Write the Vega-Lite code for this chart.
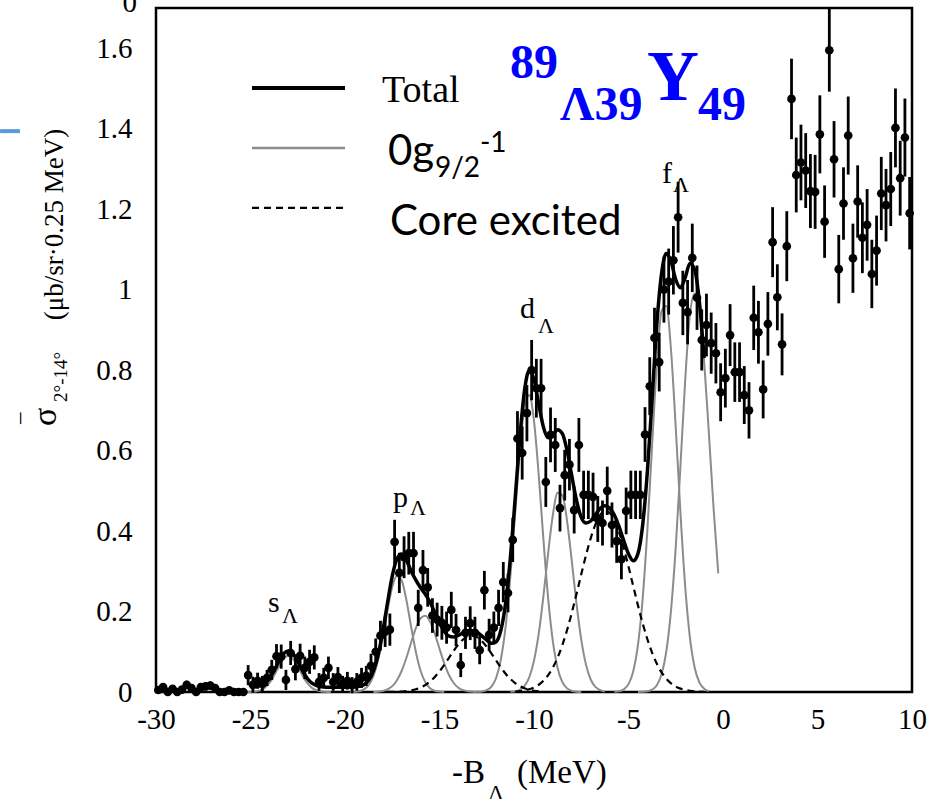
{
"$schema": "https://vega.github.io/schema/vega-lite/v6.json",
"width": 756,
"height": 684,
"autosize": {"type": "none"},
"padding": {"left": 156, "top": 8, "right": 23, "bottom": 107},
"background": "white",
"config": {
  "view": {"stroke": "black", "strokeWidth": 2.5},
  "axis": {"grid": false, "domain": false, "ticks": false, "labelFont": "Liberation Serif", "labelFontSize": 29, "labelColor": "black", "labelFlush": false, "labelOverlap": false, "labelBound": false}
},
"datasets": {
  "pts": [
    {"x":-29.875,"y":0.005,"err":0.008},{"x":-29.625,"y":0.012,"err":0.01},{"x":-29.375,"y":0,"err":0.006},{"x":-29.125,"y":0.008,"err":0.008},
    {"x":-28.875,"y":0,"err":0.006},{"x":-28.625,"y":0.006,"err":0.008},{"x":-28.375,"y":0.018,"err":0.01},{"x":-28.125,"y":0.01,"err":0.01},
    {"x":-27.875,"y":0,"err":0.006},{"x":-27.625,"y":0.012,"err":0.01},{"x":-27.375,"y":0.014,"err":0.01},{"x":-27.125,"y":0.016,"err":0.01},
    {"x":-26.875,"y":0.01,"err":0.01},{"x":-26.625,"y":0,"err":0.006},{"x":-26.375,"y":0,"err":0.006},{"x":-26.125,"y":0.004,"err":0.008},
    {"x":-25.875,"y":0,"err":0.006},{"x":-25.625,"y":0,"err":0.006},{"x":-25.375,"y":0,"err":0.006},{"x":-25.125,"y":0.042,"err":0.025},
    {"x":-24.875,"y":0.018,"err":0.02},{"x":-24.625,"y":0.028,"err":0.02},{"x":-24.375,"y":0.02,"err":0.02},{"x":-24.125,"y":0.035,"err":0.02},
    {"x":-23.875,"y":0.055,"err":0.025},{"x":-23.625,"y":0.089,"err":0.03},{"x":-23.375,"y":0.088,"err":0.03},{"x":-23.125,"y":0.03,"err":0.025},
    {"x":-22.875,"y":0.097,"err":0.03},{"x":-22.625,"y":0.057,"err":0.028},{"x":-22.375,"y":0.09,"err":0.03},{"x":-22.125,"y":0.06,"err":0.028},
    {"x":-21.875,"y":0.075,"err":0.03},{"x":-21.625,"y":0.086,"err":0.03},{"x":-21.375,"y":0.025,"err":0.022},{"x":-21.125,"y":0.035,"err":0.025},
    {"x":-20.875,"y":0.06,"err":0.028},{"x":-20.625,"y":0.025,"err":0.022},{"x":-20.375,"y":0.037,"err":0.025},{"x":-20.125,"y":0.02,"err":0.02},
    {"x":-19.875,"y":0.028,"err":0.022},{"x":-19.625,"y":0.017,"err":0.02},{"x":-19.375,"y":0.025,"err":0.022},{"x":-19.125,"y":0.035,"err":0.025},
    {"x":-18.875,"y":0.04,"err":0.025},{"x":-18.625,"y":0.065,"err":0.03},{"x":-18.375,"y":0.1,"err":0.033},{"x":-18.125,"y":0.14,"err":0.037},
    {"x":-17.875,"y":0.15,"err":0.038},{"x":-17.625,"y":0.155,"err":0.04},{"x":-17.375,"y":0.373,"err":0.055},{"x":-17.125,"y":0.296,"err":0.05},
    {"x":-16.875,"y":0.335,"err":0.052},{"x":-16.625,"y":0.345,"err":0.053},{"x":-16.375,"y":0.345,"err":0.053},{"x":-16.125,"y":0.209,"err":0.045},
    {"x":-15.875,"y":0.303,"err":0.05},{"x":-15.625,"y":0.26,"err":0.048},{"x":-15.375,"y":0.19,"err":0.043},{"x":-15.125,"y":0.18,"err":0.042},
    {"x":-14.875,"y":0.172,"err":0.042},{"x":-14.625,"y":0.16,"err":0.04},{"x":-14.375,"y":0.204,"err":0.045},{"x":-14.125,"y":0.154,"err":0.04},
    {"x":-13.875,"y":0.067,"err":0.03},{"x":-13.625,"y":0.147,"err":0.04},{"x":-13.375,"y":0.171,"err":0.042},{"x":-13.125,"y":0.147,"err":0.04},
    {"x":-12.875,"y":0.104,"err":0.035},{"x":-12.625,"y":0.253,"err":0.048},{"x":-12.375,"y":0.142,"err":0.04},{"x":-12.125,"y":0.16,"err":0.04},
    {"x":-11.875,"y":0.209,"err":0.045},{"x":-11.625,"y":0.273,"err":0.05},{"x":-11.375,"y":0.246,"err":0.048},{"x":-11.125,"y":0.378,"err":0.055},
    {"x":-10.875,"y":0.63,"err":0.068},{"x":-10.625,"y":0.594,"err":0.066},{"x":-10.375,"y":0.693,"err":0.07},{"x":-10.125,"y":0.8,"err":0.075},
    {"x":-9.875,"y":0.755,"err":0.073},{"x":-9.625,"y":0.755,"err":0.073},{"x":-9.375,"y":0.522,"err":0.062},{"x":-9.125,"y":0.639,"err":0.068},
    {"x":-8.875,"y":0.614,"err":0.067},{"x":-8.625,"y":0.457,"err":0.058},{"x":-8.375,"y":0.539,"err":0.063},{"x":-8.125,"y":0.565,"err":0.064},
    {"x":-7.875,"y":0.452,"err":0.058},{"x":-7.625,"y":0.614,"err":0.067},{"x":-7.375,"y":0.49,"err":0.06},{"x":-7.125,"y":0.49,"err":0.06},
    {"x":-6.875,"y":0.485,"err":0.06},{"x":-6.625,"y":0.43,"err":0.057},{"x":-6.375,"y":0.42,"err":0.056},{"x":-6.125,"y":0.5,"err":0.06},
    {"x":-5.875,"y":0.415,"err":0.056},{"x":-5.625,"y":0.375,"err":0.054},{"x":-5.375,"y":0.33,"err":0.05},{"x":-5.125,"y":0.45,"err":0.058},
    {"x":-4.875,"y":0.49,"err":0.06},{"x":-4.625,"y":0.49,"err":0.06},{"x":-4.375,"y":0.49,"err":0.06},{"x":-4.125,"y":0.64,"err":0.068},
    {"x":-3.875,"y":0.76,"err":0.072},{"x":-3.625,"y":0.88,"err":0.075},{"x":-3.375,"y":0.82,"err":0.073},{"x":-3.125,"y":1.0,"err":0.082},
    {"x":-2.875,"y":1.02,"err":0.082},{"x":-2.625,"y":1.073,"err":0.085},{"x":-2.375,"y":1.18,"err":0.088},{"x":-2.125,"y":0.967,"err":0.08},
    {"x":-1.875,"y":0.944,"err":0.08},{"x":-1.625,"y":1.079,"err":0.085},{"x":-1.375,"y":0.98,"err":0.08},{"x":-1.125,"y":0.875,"err":0.076},
    {"x":-0.875,"y":0.912,"err":0.078},{"x":-0.625,"y":0.867,"err":0.076},{"x":-0.375,"y":0.842,"err":0.075},{"x":-0.125,"y":0.745,"err":0.072},
    {"x":0.125,"y":0.78,"err":0.073},{"x":0.375,"y":0.887,"err":0.077},{"x":0.625,"y":0.795,"err":0.074},{"x":0.875,"y":0.795,"err":0.074},
    {"x":1.125,"y":0.738,"err":0.072},{"x":1.375,"y":0.7,"err":0.07},{"x":1.625,"y":0.93,"err":0.08},{"x":1.875,"y":0.894,"err":0.078},
    {"x":2.125,"y":0.752,"err":0.072},{"x":2.375,"y":0.915,"err":0.079},{"x":2.625,"y":1.118,"err":0.087},{"x":2.875,"y":0.981,"err":0.082},
    {"x":3.125,"y":0.864,"err":0.077},{"x":3.375,"y":1.108,"err":0.087},{"x":3.625,"y":1.474,"err":0.1},{"x":3.875,"y":1.285,"err":0.093},
    {"x":4.125,"y":1.316,"err":0.094},{"x":4.375,"y":1.296,"err":0.093},{"x":4.625,"y":1.245,"err":0.092},{"x":4.875,"y":1.243,"err":0.092},
    {"x":5.125,"y":1.386,"err":0.097},{"x":5.375,"y":1.169,"err":0.09},{"x":5.625,"y":1.595,"err":0.103},{"x":5.875,"y":1.324,"err":0.095},
    {"x":6.125,"y":1.051,"err":0.085},{"x":6.375,"y":1.214,"err":0.09},{"x":6.625,"y":1.383,"err":0.097},{"x":6.875,"y":1.078,"err":0.086},
    {"x":7.125,"y":1.219,"err":0.09},{"x":7.375,"y":1.129,"err":0.088},{"x":7.625,"y":1.161,"err":0.089},{"x":7.875,"y":1.039,"err":0.085},
    {"x":8.125,"y":1.097,"err":0.087},{"x":8.375,"y":1.239,"err":0.091},{"x":8.625,"y":1.21,"err":0.09},{"x":8.875,"y":1.25,"err":0.092},
    {"x":9.125,"y":1.402,"err":0.098},{"x":9.375,"y":1.277,"err":0.093},{"x":9.625,"y":1.378,"err":0.097},{"x":9.875,"y":1.19,"err":0.09}
  ],
  "gray": [
    {"comp":"s","x":-25.25,"y":0},{"comp":"s","x":-25.0,"y":0.0003},{"comp":"s","x":-24.75,"y":0.0013},{"comp":"s","x":-24.5,"y":0.004},{"comp":"s","x":-24.25,"y":0.0103},{"comp":"s","x":-24.0,"y":0.0224},{"comp":"s","x":-23.75,"y":0.0412},{"comp":"s","x":-23.5,"y":0.0636},{"comp":"s","x":-23.25,"y":0.0825},{"comp":"s","x":-23.0,"y":0.09},{"comp":"s","x":-22.75,"y":0.0825},{"comp":"s","x":-22.5,"y":0.0636},{"comp":"s","x":-22.25,"y":0.0412},{"comp":"s","x":-22.0,"y":0.0224},{"comp":"s","x":-21.75,"y":0.0103},{"comp":"s","x":-21.5,"y":0.004},{"comp":"s","x":-21.25,"y":0.0013},{"comp":"s","x":-21.0,"y":0.0003},{"comp":"s","x":-20.75,"y":0},
    {"comp":"p1","x":-19.75,"y":0},{"comp":"p1","x":-19.5,"y":0.0006},{"comp":"p1","x":-19.25,"y":0.002},{"comp":"p1","x":-19.0,"y":0.0063},{"comp":"p1","x":-18.75,"y":0.0169},{"comp":"p1","x":-18.5,"y":0.0392},{"comp":"p1","x":-18.25,"y":0.0787},{"comp":"p1","x":-18.0,"y":0.136},{"comp":"p1","x":-17.75,"y":0.203},{"comp":"p1","x":-17.5,"y":0.261},{"comp":"p1","x":-17.25,"y":0.289},{"comp":"p1","x":-17.0,"y":0.277},{"comp":"p1","x":-16.75,"y":0.228},{"comp":"p1","x":-16.5,"y":0.162},{"comp":"p1","x":-16.25,"y":0.0996},{"comp":"p1","x":-16.0,"y":0.0527},{"comp":"p1","x":-15.75,"y":0.0241},{"comp":"p1","x":-15.5,"y":0.0095},{"comp":"p1","x":-15.25,"y":0.0032},{"comp":"p1","x":-15.0,"y":0.001},{"comp":"p1","x":-14.75,"y":0.0003},
    {"comp":"p2","x":-18.5,"y":0.0003},{"comp":"p2","x":-18.25,"y":0.0009},{"comp":"p2","x":-18.0,"y":0.0026},{"comp":"p2","x":-17.75,"y":0.0065},{"comp":"p2","x":-17.5,"y":0.0146},{"comp":"p2","x":-17.25,"y":0.0293},{"comp":"p2","x":-17.0,"y":0.0528},{"comp":"p2","x":-16.75,"y":0.0852},{"comp":"p2","x":-16.5,"y":0.1229},{"comp":"p2","x":-16.25,"y":0.1587},{"comp":"p2","x":-16.0,"y":0.1833},{"comp":"p2","x":-15.75,"y":0.1896},{"comp":"p2","x":-15.5,"y":0.1754},{"comp":"p2","x":-15.25,"y":0.1452},{"comp":"p2","x":-15.0,"y":0.1076},{"comp":"p2","x":-14.75,"y":0.0713},{"comp":"p2","x":-14.5,"y":0.0423},{"comp":"p2","x":-14.25,"y":0.0224},{"comp":"p2","x":-14.0,"y":0.0107},{"comp":"p2","x":-13.75,"y":0.0045},{"comp":"p2","x":-13.5,"y":0.0017},{"comp":"p2","x":-13.25,"y":0.0006},{"comp":"p2","x":-13.0,"y":0.0003},
    {"comp":"d1","x":-13.0,"y":0.0003},{"comp":"d1","x":-12.75,"y":0.0014},{"comp":"d1","x":-12.5,"y":0.0046},{"comp":"d1","x":-12.25,"y":0.0136},{"comp":"d1","x":-12.0,"y":0.0355},{"comp":"d1","x":-11.75,"y":0.0814},{"comp":"d1","x":-11.5,"y":0.163},{"comp":"d1","x":-11.25,"y":0.287},{"comp":"d1","x":-11.0,"y":0.442},{"comp":"d1","x":-10.75,"y":0.598},{"comp":"d1","x":-10.5,"y":0.71},{"comp":"d1","x":-10.25,"y":0.738},{"comp":"d1","x":-10.0,"y":0.673},{"comp":"d1","x":-9.75,"y":0.539},{"comp":"d1","x":-9.5,"y":0.378},{"comp":"d1","x":-9.25,"y":0.232},{"comp":"d1","x":-9.0,"y":0.125},{"comp":"d1","x":-8.75,"y":0.0592},{"comp":"d1","x":-8.5,"y":0.0246},{"comp":"d1","x":-8.25,"y":0.009},{"comp":"d1","x":-8.0,"y":0.0029},{"comp":"d1","x":-7.75,"y":0.0008},{"comp":"d1","x":-7.5,"y":0.0002},
    {"comp":"d2","x":-11.25,"y":0.0006},{"comp":"d2","x":-11.0,"y":0.0018},{"comp":"d2","x":-10.75,"y":0.0056},{"comp":"d2","x":-10.5,"y":0.0152},{"comp":"d2","x":-10.25,"y":0.0367},{"comp":"d2","x":-10.0,"y":0.078},{"comp":"d2","x":-9.75,"y":0.145},{"comp":"d2","x":-9.5,"y":0.239},{"comp":"d2","x":-9.25,"y":0.346},{"comp":"d2","x":-9.0,"y":0.441},{"comp":"d2","x":-8.75,"y":0.495},{"comp":"d2","x":-8.5,"y":0.489},{"comp":"d2","x":-8.25,"y":0.425},{"comp":"d2","x":-8.0,"y":0.325},{"comp":"d2","x":-7.75,"y":0.219},{"comp":"d2","x":-7.5,"y":0.13},{"comp":"d2","x":-7.25,"y":0.068},{"comp":"d2","x":-7.0,"y":0.0311},{"comp":"d2","x":-6.75,"y":0.0126},{"comp":"d2","x":-6.5,"y":0.0045},{"comp":"d2","x":-6.25,"y":0.0014},
    {"comp":"f1","x":-5.75,"y":0.0005},{"comp":"f1","x":-5.5,"y":0.0019},{"comp":"f1","x":-5.25,"y":0.0066},{"comp":"f1","x":-5.0,"y":0.0196},{"comp":"f1","x":-4.75,"y":0.0511},{"comp":"f1","x":-4.5,"y":0.1166},{"comp":"f1","x":-4.25,"y":0.2321},{"comp":"f1","x":-4.0,"y":0.4041},{"comp":"f1","x":-3.75,"y":0.6143},{"comp":"f1","x":-3.5,"y":0.8159},{"comp":"f1","x":-3.25,"y":0.9467},{"comp":"f1","x":-3.0,"y":0.9596},{"comp":"f1","x":-2.75,"y":0.8497},{"comp":"f1","x":-2.5,"y":0.6573},{"comp":"f1","x":-2.25,"y":0.4441},{"comp":"f1","x":-2.0,"y":0.2622},{"comp":"f1","x":-1.75,"y":0.1352},{"comp":"f1","x":-1.5,"y":0.0609},{"comp":"f1","x":-1.25,"y":0.024},{"comp":"f1","x":-1.0,"y":0.0082},{"comp":"f1","x":-0.75,"y":0.0025},
    {"comp":"f2","x":-4.5,"y":0.0001},{"comp":"f2","x":-4.25,"y":0.0005},{"comp":"f2","x":-4.0,"y":0.0017},{"comp":"f2","x":-3.75,"y":0.0057},{"comp":"f2","x":-3.5,"y":0.0169},{"comp":"f2","x":-3.25,"y":0.044},{"comp":"f2","x":-3.0,"y":0.1007},{"comp":"f2","x":-2.75,"y":0.203},{"comp":"f2","x":-2.5,"y":0.36},{"comp":"f2","x":-2.25,"y":0.563},{"comp":"f2","x":-2.0,"y":0.775},{"comp":"f2","x":-1.75,"y":0.938},{"comp":"f2","x":-1.5,"y":0.99},{"comp":"f2","x":-1.25,"y":0.952},{"comp":"f2","x":-1.0,"y":0.823},{"comp":"f2","x":-0.75,"y":0.645},{"comp":"f2","x":-0.5,"y":0.458},{"comp":"f2","x":-0.25,"y":0.295}
  ],
  "core": [
    {"comp":"A","x":-17.75,"y":0.0001},{"comp":"A","x":-17.5,"y":0.0003},{"comp":"A","x":-17.25,"y":0.0006},{"comp":"A","x":-17.0,"y":0.0012},{"comp":"A","x":-16.75,"y":0.0022},{"comp":"A","x":-16.5,"y":0.004},{"comp":"A","x":-16.25,"y":0.0068},{"comp":"A","x":-16.0,"y":0.0111},{"comp":"A","x":-15.75,"y":0.0174},{"comp":"A","x":-15.5,"y":0.0261},{"comp":"A","x":-15.25,"y":0.0374},{"comp":"A","x":-15.0,"y":0.0513},{"comp":"A","x":-14.75,"y":0.0675},{"comp":"A","x":-14.5,"y":0.0849},{"comp":"A","x":-14.25,"y":0.1023},{"comp":"A","x":-14.0,"y":0.1181},{"comp":"A","x":-13.75,"y":0.1305},{"comp":"A","x":-13.5,"y":0.138},{"comp":"A","x":-13.25,"y":0.1399},{"comp":"A","x":-13.0,"y":0.1357},{"comp":"A","x":-12.75,"y":0.126},{"comp":"A","x":-12.5,"y":0.1121},{"comp":"A","x":-12.25,"y":0.0955},{"comp":"A","x":-12.0,"y":0.0778},{"comp":"A","x":-11.75,"y":0.0608},{"comp":"A","x":-11.5,"y":0.0455},{"comp":"A","x":-11.25,"y":0.0325},{"comp":"A","x":-11.0,"y":0.0223},{"comp":"A","x":-10.75,"y":0.0146},{"comp":"A","x":-10.5,"y":0.0092},{"comp":"A","x":-10.25,"y":0.0055},{"comp":"A","x":-10.0,"y":0.0032},{"comp":"A","x":-9.75,"y":0.0018},{"comp":"A","x":-9.5,"y":0.0009},
    {"comp":"B","x":-11.0,"y":0.0013},{"comp":"B","x":-10.75,"y":0.0023},{"comp":"B","x":-10.5,"y":0.004},{"comp":"B","x":-10.25,"y":0.0069},{"comp":"B","x":-10.0,"y":0.0113},{"comp":"B","x":-9.75,"y":0.018},{"comp":"B","x":-9.5,"y":0.028},{"comp":"B","x":-9.25,"y":0.0419},{"comp":"B","x":-9.0,"y":0.0609},{"comp":"B","x":-8.75,"y":0.0857},{"comp":"B","x":-8.5,"y":0.1167},{"comp":"B","x":-8.25,"y":0.154},{"comp":"B","x":-8.0,"y":0.1969},{"comp":"B","x":-7.75,"y":0.2438},{"comp":"B","x":-7.5,"y":0.2924},{"comp":"B","x":-7.25,"y":0.3397},{"comp":"B","x":-7.0,"y":0.3822},{"comp":"B","x":-6.75,"y":0.4166},{"comp":"B","x":-6.5,"y":0.4398},{"comp":"B","x":-6.25,"y":0.4497},{"comp":"B","x":-6.0,"y":0.4454},{"comp":"B","x":-5.75,"y":0.4273},{"comp":"B","x":-5.5,"y":0.3971},{"comp":"B","x":-5.25,"y":0.3574},{"comp":"B","x":-5.0,"y":0.3117},{"comp":"B","x":-4.75,"y":0.2632},{"comp":"B","x":-4.5,"y":0.2153},{"comp":"B","x":-4.25,"y":0.1706},{"comp":"B","x":-4.0,"y":0.131},{"comp":"B","x":-3.75,"y":0.0973},{"comp":"B","x":-3.5,"y":0.0701},{"comp":"B","x":-3.25,"y":0.0489},{"comp":"B","x":-3.0,"y":0.033},{"comp":"B","x":-2.75,"y":0.0216},{"comp":"B","x":-2.5,"y":0.0137},{"comp":"B","x":-2.25,"y":0.0084},{"comp":"B","x":-2.0,"y":0.005},{"comp":"B","x":-1.75,"y":0.0029},{"comp":"B","x":-1.5,"y":0.0016},{"comp":"B","x":-1.25,"y":0.0009},{"comp":"B","x":-1.0,"y":0.0005}
  ],
  "total": [
    {"x":-25.0,"y":0.012},{"x":-24.75,"y":0.013},{"x":-24.5,"y":0.016},{"x":-24.25,"y":0.022},{"x":-24.0,"y":0.034},{"x":-23.75,"y":0.053},{"x":-23.5,"y":0.076},{"x":-23.25,"y":0.095},{"x":-23.0,"y":0.102},{"x":-22.75,"y":0.095},{"x":-22.5,"y":0.076},{"x":-22.25,"y":0.053},{"x":-22.0,"y":0.034},{"x":-21.75,"y":0.022},{"x":-21.5,"y":0.016},{"x":-21.25,"y":0.013},{"x":-21.0,"y":0.012},{"x":-20.5,"y":0.012},{"x":-20.0,"y":0.012},{"x":-19.5,"y":0.013},{"x":-19.25,"y":0.014},{"x":-19.0,"y":0.018},{"x":-18.75,"y":0.029},{"x":-18.5,"y":0.052},{"x":-18.25,"y":0.092},{"x":-18.0,"y":0.151},{"x":-17.75,"y":0.222},{"x":-17.5,"y":0.288},{"x":-17.25,"y":0.331},{"x":-17.0,"y":0.343},{"x":-16.75,"y":0.327},{"x":-16.5,"y":0.301},{"x":-16.25,"y":0.278},{"x":-16.0,"y":0.259},{"x":-15.75,"y":0.243},{"x":-15.5,"y":0.223},{"x":-15.25,"y":0.198},{"x":-15.0,"y":0.172},{"x":-14.75,"y":0.151},{"x":-14.5,"y":0.139},{"x":-14.25,"y":0.137},{"x":-14.0,"y":0.141},{"x":-13.75,"y":0.147},{"x":-13.5,"y":0.152},{"x":-13.25,"y":0.152},{"x":-13.0,"y":0.148},{"x":-12.75,"y":0.139},{"x":-12.5,"y":0.129},{"x":-12.25,"y":0.121},{"x":-12.0,"y":0.125},{"x":-11.75,"y":0.154},{"x":-11.5,"y":0.221},{"x":-11.25,"y":0.333},{"x":-11.0,"y":0.479},{"x":-10.75,"y":0.632},{"x":-10.5,"y":0.75},{"x":-10.25,"y":0.799},{"x":-10.0,"y":0.777},{"x":-9.75,"y":0.716},{"x":-9.5,"y":0.658},{"x":-9.25,"y":0.632},{"x":-9.0,"y":0.639},{"x":-8.75,"y":0.652},{"x":-8.5,"y":0.642},{"x":-8.25,"y":0.6},{"x":-8.0,"y":0.537},{"x":-7.75,"y":0.476},{"x":-7.5,"y":0.434},{"x":-7.25,"y":0.42},{"x":-7.0,"y":0.425},{"x":-6.75,"y":0.441},{"x":-6.5,"y":0.456},{"x":-6.25,"y":0.463},{"x":-6.0,"y":0.457},{"x":-5.75,"y":0.44},{"x":-5.5,"y":0.411},{"x":-5.25,"y":0.376},{"x":-5.0,"y":0.343},{"x":-4.75,"y":0.326},{"x":-4.5,"y":0.344},{"x":-4.25,"y":0.415},{"x":-4.0,"y":0.549},{"x":-3.75,"y":0.729},{"x":-3.5,"y":0.915},{"x":-3.25,"y":1.04},{"x":-3.0,"y":1.09},{"x":-2.75,"y":1.07},{"x":-2.5,"y":1.025},{"x":-2.25,"y":1.005},{"x":-2.0,"y":1.03},{"x":-1.75,"y":1.065},{"x":-1.5,"y":1.05},{"x":-1.25,"y":0.97},{"x":-1.0,"y":0.83}
  ],
  "xticks": [
    {"x":-29,"major":false},{"x":-28,"major":false},{"x":-27,"major":false},{"x":-26,"major":false},{"x":-25,"major":true},
    {"x":-24,"major":false},{"x":-23,"major":false},{"x":-22,"major":false},{"x":-21,"major":false},{"x":-20,"major":true},
    {"x":-19,"major":false},{"x":-18,"major":false},{"x":-17,"major":false},{"x":-16,"major":false},{"x":-15,"major":true},
    {"x":-14,"major":false},{"x":-13,"major":false},{"x":-12,"major":false},{"x":-11,"major":false},{"x":-10,"major":true},
    {"x":-9,"major":false},{"x":-8,"major":false},{"x":-7,"major":false},{"x":-6,"major":false},{"x":-5,"major":true},
    {"x":-4,"major":false},{"x":-3,"major":false},{"x":-2,"major":false},{"x":-1,"major":false},{"x":0,"major":true},
    {"x":1,"major":false},{"x":2,"major":false},{"x":3,"major":false},{"x":4,"major":false},{"x":5,"major":true},
    {"x":6,"major":false},{"x":7,"major":false},{"x":8,"major":false},{"x":9,"major":false}
  ],
  "yticks": [
    {"y":0.05,"major":false},{"y":0.1,"major":false},{"y":0.15,"major":false},{"y":0.2,"major":true},
    {"y":0.25,"major":false},{"y":0.3,"major":false},{"y":0.35,"major":false},{"y":0.4,"major":true},
    {"y":0.45,"major":false},{"y":0.5,"major":false},{"y":0.55,"major":false},{"y":0.6,"major":true},
    {"y":0.65,"major":false},{"y":0.7,"major":false},{"y":0.75,"major":false},{"y":0.8,"major":true},
    {"y":0.85,"major":false},{"y":0.9,"major":false},{"y":0.95,"major":false},{"y":1,"major":true},
    {"y":1.05,"major":false},{"y":1.1,"major":false},{"y":1.15,"major":false},{"y":1.2,"major":true},
    {"y":1.25,"major":false},{"y":1.3,"major":false},{"y":1.35,"major":false},{"y":1.4,"major":true},
    {"y":1.45,"major":false},{"y":1.5,"major":false},{"y":1.55,"major":false},{"y":1.6,"major":true},
    {"y":1.65,"major":false}
  ],
  "leg": [
    {"kind":"total","x":-24.92,"x2":-20.0,"y":1.501},
    {"kind":"comp","x":-24.92,"x2":-20.0,"y":1.352},
    {"kind":"core","x":-24.92,"x2":-20.0,"y":1.203},
    {"kind":"deco","x":-38.25,"x2":-37.2,"y":1.394}
  ],
  "lab": [
    {"grp":"peak","x":-24.07,"y":0.199,"text":"s"},
    {"grp":"peak","x":-17.46,"y":0.46,"text":"p"},
    {"grp":"peak","x":-10.74,"y":0.929,"text":"d"},
    {"grp":"peak","x":-3.23,"y":1.265,"text":"f"},
    {"grp":"sub","x":-23.33,"y":0.171,"text":"Λ"},
    {"grp":"sub","x":-16.56,"y":0.44,"text":"Λ"},
    {"grp":"sub","x":-9.79,"y":0.892,"text":"Λ"},
    {"grp":"sub","x":-2.65,"y":1.242,"text":"Λ"},
    {"grp":"sub","x":-12.43,"y":-0.268,"text":"Λ"},
    {"grp":"xt","x":-14.34,"y":-0.226,"text":"-B"},
    {"grp":"xt","x":-10.9,"y":-0.226,"text":"(MeV)"},
    {"grp":"total","x":-18.04,"y":1.466,"text":"Total"},
    {"grp":"sans","x":-17.73,"y":1.31,"text":"0g"},
    {"grp":"sans","x":-17.62,"y":1.136,"text":"Core excited"},
    {"grp":"sanssm","x":-15.24,"y":1.28,"text":"9/2"},
    {"grp":"sanssm","x":-12.86,"y":1.342,"text":"-1"},
    {"grp":"blue","x":-11.27,"y":1.526,"text":"89"},
    {"grp":"blue","x":-8.62,"y":1.421,"text":"Λ39"},
    {"grp":"blue","x":-1.32,"y":1.421,"text":"49"},
    {"grp":"blueY","x":-4.02,"y":1.471,"text":"Y"},
    {"grp":"yt1","x":-35.3,"y":0.661,"text":"σ"},
    {"grp":"ybar","x":-35.91,"y":0.668,"text":"‾"},
    {"grp":"yt2","x":-34.72,"y":0.721,"text":"2°-14°"},
    {"grp":"yt3","x":-34.92,"y":0.924,"text":"(μb/sr·0.25 MeV)"},
    {"grp":"tick0","x":-31.0,"y":1.69,"text":"0"}
  ]
},
"encoding": {
  "x": {"field": "x", "type": "quantitative",
        "scale": {"domain": [-30, 10], "nice": false, "zero": false},
        "axis": {"title": null,
                 "values": [-30,-25,-20,-15,-10,-5,0,5,10],
                 "labelExpr": "toString(datum.value)",
                 "labelPadding": 13, "labelBaseline": "top"}},
  "y": {"field": "y", "type": "quantitative",
        "scale": {"domain": [0, 1.7], "nice": false, "zero": false},
        "axis": {"title": null,
                 "values": [0,0.2,0.4,0.6,0.8,1,1.2,1.4,1.6],
                 "labelExpr": "toString(datum.value)",
                 "labelPadding": 24, "labelBaseline": "middle"}}
},
"layer": [
  {"data": {"name": "gray"}, "mark": {"type": "line", "color": "#8c8c8c", "strokeWidth": 2, "interpolate": "monotone"}, "encoding": {"detail": {"field": "comp"}}},
  {"data": {"name": "core"}, "mark": {"type": "line", "color": "black", "strokeWidth": 2.2, "strokeDash": [7, 5], "interpolate": "monotone"}, "encoding": {"detail": {"field": "comp"}}},
  {"data": {"name": "total"}, "mark": {"type": "line", "color": "black", "strokeWidth": 3.5, "interpolate": "monotone"}, "encoding": {}},
  {"data": {"name": "pts"}, "mark": {"type": "errorbar", "color": "black", "thickness": 2.8, "ticks": false}, "encoding": {"yError": {"field": "err"}}},
  {"data": {"name": "pts"}, "mark": {"type": "circle", "color": "black", "size": 75, "opacity": 1}, "encoding": {}},
  {"data": {"name": "xticks"}, "transform": [{"filter": "datum.major"}], "mark": {"type": "rule", "color": "black", "strokeWidth": 2}, "encoding": {"y": {"datum": 0}, "y2": {"datum": 0.045}}},
  {"data": {"name": "xticks"}, "transform": [{"filter": "!datum.major"}], "mark": {"type": "rule", "color": "black", "strokeWidth": 2}, "encoding": {"y": {"datum": 0}, "y2": {"datum": 0.025}}},
  {"data": {"name": "yticks"}, "transform": [{"filter": "datum.major"}], "mark": {"type": "rule", "color": "black", "strokeWidth": 2}, "encoding": {"x": {"datum": -30}, "x2": {"datum": -28.89}}},
  {"data": {"name": "yticks"}, "transform": [{"filter": "!datum.major"}], "mark": {"type": "rule", "color": "black", "strokeWidth": 2}, "encoding": {"x": {"datum": -30}, "x2": {"datum": -29.365}}},
  {"data": {"name": "leg"}, "transform": [{"filter": "datum.kind === 'total'"}], "mark": {"type": "rule", "color": "black", "strokeWidth": 4}, "encoding": {"x2": {"field": "x2"}}},
  {"data": {"name": "leg"}, "transform": [{"filter": "datum.kind === 'comp'"}], "mark": {"type": "rule", "color": "#8c8c8c", "strokeWidth": 2.5}, "encoding": {"x2": {"field": "x2"}}},
  {"data": {"name": "leg"}, "transform": [{"filter": "datum.kind === 'core'"}], "mark": {"type": "rule", "color": "black", "strokeWidth": 2.2, "strokeDash": [7, 5]}, "encoding": {"x2": {"field": "x2"}}},
  {"data": {"name": "leg"}, "transform": [{"filter": "datum.kind === 'deco'"}], "mark": {"type": "rule", "color": "#5b9bd5", "strokeWidth": 4}, "encoding": {"x2": {"field": "x2"}}},
  {"data": {"name": "lab"}, "transform": [{"filter": "datum.grp === 'peak'"}], "mark": {"type": "text", "font": "Liberation Serif", "fontSize": 30, "align": "left", "baseline": "alphabetic", "color": "black"}, "encoding": {"text": {"field": "text"}}},
  {"data": {"name": "lab"}, "transform": [{"filter": "datum.grp === 'sub'"}], "mark": {"type": "text", "font": "Liberation Serif", "fontSize": 22, "align": "left", "baseline": "alphabetic", "color": "black"}, "encoding": {"text": {"field": "text"}}},
  {"data": {"name": "lab"}, "transform": [{"filter": "datum.grp === 'xt'"}], "mark": {"type": "text", "font": "Liberation Serif", "fontSize": 33, "align": "left", "baseline": "alphabetic", "color": "black"}, "encoding": {"text": {"field": "text"}}},
  {"data": {"name": "lab"}, "transform": [{"filter": "datum.grp === 'total'"}], "mark": {"type": "text", "font": "Liberation Serif", "fontSize": 38, "align": "left", "baseline": "alphabetic", "color": "black"}, "encoding": {"text": {"field": "text"}}},
  {"data": {"name": "lab"}, "transform": [{"filter": "datum.grp === 'sans'"}], "mark": {"type": "text", "font": "Lato", "fontSize": 42, "align": "left", "baseline": "alphabetic", "color": "black"}, "encoding": {"text": {"field": "text"}}},
  {"data": {"name": "lab"}, "transform": [{"filter": "datum.grp === 'sanssm'"}], "mark": {"type": "text", "font": "Lato", "fontSize": 28, "align": "left", "baseline": "alphabetic", "color": "black"}, "encoding": {"text": {"field": "text"}}},
  {"data": {"name": "lab"}, "transform": [{"filter": "datum.grp === 'blue'"}], "mark": {"type": "text", "font": "Liberation Serif", "fontSize": 48, "fontWeight": "bold", "align": "left", "baseline": "alphabetic", "color": "#0000ff"}, "encoding": {"text": {"field": "text"}}},
  {"data": {"name": "lab"}, "transform": [{"filter": "datum.grp === 'blueY'"}], "mark": {"type": "text", "font": "Liberation Serif", "fontSize": 72, "fontWeight": "bold", "align": "left", "baseline": "alphabetic", "color": "#0000ff"}, "encoding": {"text": {"field": "text"}}},
  {"data": {"name": "lab"}, "transform": [{"filter": "datum.grp === 'yt1'"}], "mark": {"type": "text", "font": "Liberation Serif", "fontSize": 34, "angle": 270, "align": "left", "baseline": "alphabetic", "color": "black"}, "encoding": {"text": {"field": "text"}}},
  {"data": {"name": "lab"}, "transform": [{"filter": "datum.grp === 'ybar'"}], "mark": {"type": "text", "font": "Liberation Serif", "fontSize": 30, "angle": 270, "align": "left", "baseline": "alphabetic", "color": "black"}, "encoding": {"text": {"field": "text"}}},
  {"data": {"name": "lab"}, "transform": [{"filter": "datum.grp === 'yt2'"}], "mark": {"type": "text", "font": "Liberation Serif", "fontSize": 19, "angle": 270, "align": "left", "baseline": "alphabetic", "color": "black"}, "encoding": {"text": {"field": "text"}}},
  {"data": {"name": "lab"}, "transform": [{"filter": "datum.grp === 'yt3'"}], "mark": {"type": "text", "font": "Liberation Serif", "fontSize": 27, "angle": 270, "align": "left", "baseline": "alphabetic", "color": "black"}, "encoding": {"text": {"field": "text"}}},
  {"data": {"name": "lab"}, "transform": [{"filter": "datum.grp === 'tick0'"}], "mark": {"type": "text", "font": "Liberation Serif", "fontSize": 29, "align": "right", "baseline": "alphabetic", "color": "black"}, "encoding": {"text": {"field": "text"}}}
]
}
